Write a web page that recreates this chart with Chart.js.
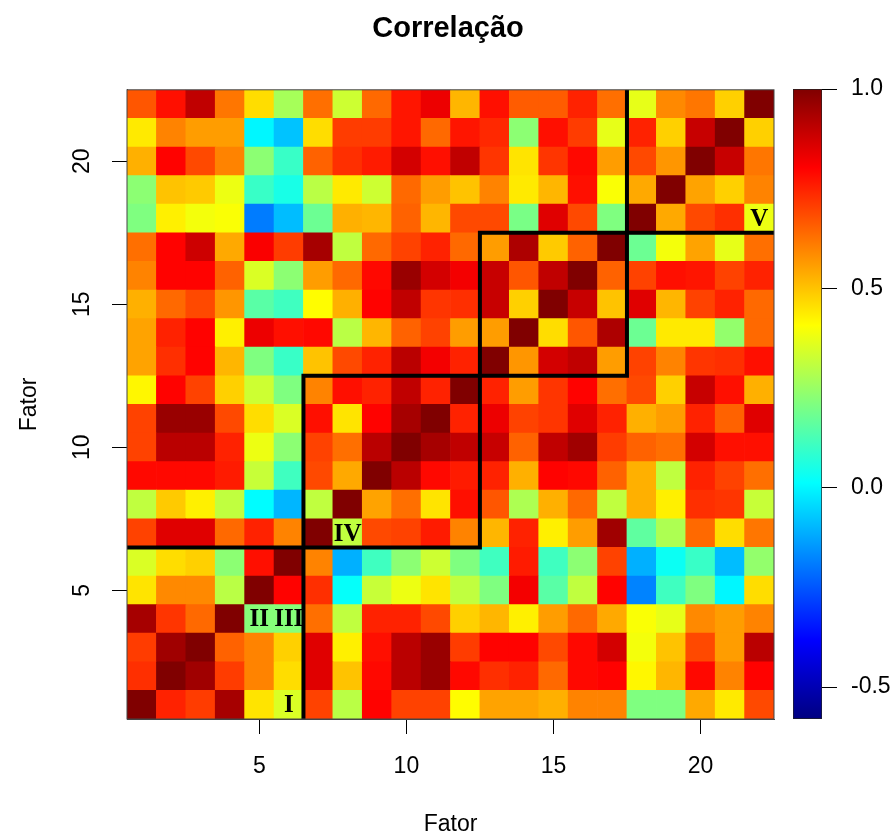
<!DOCTYPE html>
<html>
<head>
<meta charset="utf-8">
<script src="https://cdn.jsdelivr.net/npm/chart.js@4.4.1/dist/chart.umd.min.js"></script>
<style>
  body { margin: 0; background: #fff; }
  #wrap { position: relative; width: 896px; height: 836px; }
  #heat { position: absolute; left: 0; top: 0; }
  #bar { position: absolute; left: 780px; top: 0; }
</style>
</head>
<body>
<div id="wrap">
  <canvas id="heat" width="896" height="836"></canvas>
  <canvas id="bar" width="116" height="836"></canvas>
</div>
<script>
// fatores 1..22 (x e y)
const factors = Array.from({ length: 22 }, (_, i) => i + 1);
const axisTicks = [5, 10, 15, 20];
const colorTicks = [-0.5, 0, 0.5, 1.0];
const zMin = -0.58;
const zMax = 1.0;

// correlações, uma linha por fator no eixo y (de baixo para cima)
const corr = [
  [1.0, 0.75, 0.71, 0.94, 0.45, 0.35, 0.7, 0.3, 0.8, 0.7, 0.7, 0.41, 0.55, 0.55, 0.53, 0.6, 0.6, 0.21, 0.21, 0.54, 0.44, 0.69],
  [0.73, 1.0, 0.95, 0.71, 0.6, 0.46, 0.85, 0.5, 0.79, 0.91, 0.96, 0.79, 0.73, 0.75, 0.64, 0.79, 0.8, 0.42, 0.52, 0.79, 0.6, 0.8],
  [0.71, 0.95, 1.0, 0.65, 0.6, 0.48, 0.85, 0.43, 0.78, 0.91, 0.96, 0.71, 0.8, 0.8, 0.69, 0.79, 0.87, 0.39, 0.5, 0.69, 0.56, 0.91],
  [0.94, 0.72, 0.64, 1.0, 0.22, 0.22, 0.63, 0.31, 0.75, 0.75, 0.69, 0.48, 0.52, 0.43, 0.56, 0.64, 0.54, 0.4, 0.37, 0.59, 0.56, 0.6],
  [0.45, 0.59, 0.59, 0.3, 1.0, 0.8, 0.73, 0.02, 0.32, 0.38, 0.45, 0.31, 0.21, 0.82, 0.15, 0.31, 0.8, -0.18, 0.11, 0.21, 0.0, 0.46],
  [0.35, 0.46, 0.48, 0.23, 0.78, 1.0, 0.6, -0.11, 0.11, 0.23, 0.33, 0.21, 0.11, 0.76, 0.11, 0.23, 0.7, -0.11, 0.03, 0.1, -0.09, 0.24],
  [0.7, 0.85, 0.85, 0.64, 0.75, 0.6, 1.0, 0.31, 0.69, 0.7, 0.76, 0.6, 0.52, 0.75, 0.43, 0.56, 0.95, 0.16, 0.28, 0.64, 0.46, 0.62],
  [0.31, 0.49, 0.43, 0.31, 0.01, -0.1, 0.31, 1.0, 0.55, 0.63, 0.45, 0.78, 0.67, 0.28, 0.53, 0.64, 0.31, 0.53, 0.43, 0.73, 0.72, 0.32],
  [0.79, 0.79, 0.79, 0.76, 0.32, 0.11, 0.69, 0.54, 1.0, 0.91, 0.79, 0.76, 0.75, 0.53, 0.8, 0.79, 0.65, 0.53, 0.31, 0.75, 0.7, 0.63],
  [0.7, 0.91, 0.91, 0.75, 0.38, 0.23, 0.7, 0.63, 0.91, 1.0, 0.94, 0.9, 0.89, 0.65, 0.9, 0.95, 0.71, 0.65, 0.63, 0.87, 0.78, 0.78],
  [0.7, 0.96, 0.96, 0.69, 0.46, 0.35, 0.78, 0.45, 0.8, 0.94, 1.0, 0.75, 0.83, 0.7, 0.72, 0.85, 0.75, 0.53, 0.56, 0.75, 0.65, 0.85],
  [0.42, 0.8, 0.7, 0.48, 0.33, 0.21, 0.6, 0.78, 0.75, 0.9, 0.75, 1.0, 0.75, 0.56, 0.72, 0.8, 0.63, 0.69, 0.48, 0.89, 0.78, 0.53],
  [0.55, 0.73, 0.8, 0.52, 0.21, 0.1, 0.5, 0.69, 0.75, 0.91, 0.82, 0.75, 1.0, 0.57, 0.87, 0.9, 0.56, 0.7, 0.6, 0.72, 0.73, 0.78],
  [0.55, 0.75, 0.8, 0.43, 0.83, 0.78, 0.79, 0.3, 0.52, 0.65, 0.7, 0.56, 0.56, 1.0, 0.46, 0.67, 0.93, 0.18, 0.44, 0.44, 0.24, 0.64],
  [0.53, 0.64, 0.69, 0.57, 0.15, 0.11, 0.41, 0.53, 0.8, 0.9, 0.72, 0.73, 0.89, 0.48, 1.0, 0.89, 0.5, 0.85, 0.52, 0.7, 0.75, 0.64],
  [0.6, 0.8, 0.8, 0.65, 0.35, 0.23, 0.56, 0.64, 0.79, 0.96, 0.87, 0.82, 0.89, 0.67, 0.9, 1.0, 0.65, 0.7, 0.78, 0.77, 0.7, 0.75],
  [0.63, 0.8, 0.88, 0.54, 0.81, 0.71, 0.94, 0.31, 0.64, 0.7, 0.75, 0.64, 0.56, 0.93, 0.49, 0.65, 1.0, 0.18, 0.39, 0.55, 0.37, 0.63],
  [0.21, 0.43, 0.39, 0.4, -0.19, -0.09, 0.18, 0.53, 0.52, 0.65, 0.52, 0.69, 0.69, 0.2, 0.85, 0.69, 0.21, 1.0, 0.54, 0.69, 0.73, 0.38],
  [0.23, 0.5, 0.49, 0.38, 0.1, 0.05, 0.3, 0.44, 0.33, 0.64, 0.56, 0.5, 0.6, 0.44, 0.52, 0.78, 0.4, 0.54, 1.0, 0.55, 0.48, 0.6],
  [0.53, 0.8, 0.69, 0.6, 0.23, 0.1, 0.65, 0.73, 0.76, 0.87, 0.78, 0.9, 0.72, 0.45, 0.72, 0.79, 0.56, 0.69, 0.57, 1.0, 0.89, 0.62],
  [0.44, 0.6, 0.56, 0.56, 0.0, -0.08, 0.46, 0.71, 0.71, 0.77, 0.64, 0.77, 0.74, 0.23, 0.78, 0.71, 0.37, 0.75, 0.48, 0.89, 1.0, 0.48],
  [0.67, 0.78, 0.9, 0.62, 0.46, 0.27, 0.63, 0.33, 0.64, 0.77, 0.83, 0.52, 0.78, 0.66, 0.66, 0.75, 0.63, 0.37, 0.59, 0.62, 0.48, 1.0],
];

// contornos dos blocos (escada)
const stepLineA = [[0.5, 6.5], [12.5, 6.5], [12.5, 17.5], [22.5, 17.5]];
const stepLineB = [[6.5, 0.5], [6.5, 12.5], [17.5, 12.5], [17.5, 22.5]];

// rótulos dos grupos
const groupNames = ["I", "II", "III", "IV", "V"];
const groupX = [6, 5, 6, 8, 22];
const groupY = [1, 4, 4, 7, 18];

const clamp = (v) => Math.max(0, Math.min(1, v));
const jet = (v) => {
  const t = clamp((v - zMin) / (zMax - zMin));
  const r = Math.round(255 * clamp(1.5 - Math.abs(4 * t - 3)));
  const g = Math.round(255 * clamp(1.5 - Math.abs(4 * t - 2)));
  const b = Math.round(255 * clamp(1.5 - Math.abs(4 * t - 1)));
  return `rgb(${r},${g},${b})`;
};

const font = "'Liberation Sans', Arial, sans-serif";

const heatSets = corr.map((row, i) => {
  const y = factors[i];
  return {
    type: "bar",
    data: row.map((v, j) => ({ x: factors[j], y: [y - 0.5, y + 0.5] })),
    backgroundColor: row.map(jet),
    borderWidth: 0,
    grouped: false,
    barPercentage: 1,
    categoryPercentage: 1,
    order: 2,
  };
});

const lineSet = (pts) => ({
  type: "line",
  data: pts.map((p) => ({ x: p[0], y: p[1] })),
  borderColor: "#000",
  borderWidth: 4,
  pointRadius: 0,
  fill: false,
  order: 0,
});

const groupLabels = {
  id: "groupLabels",
  afterDatasetsDraw(chart) {
    const { ctx, scales } = chart;
    ctx.save();
    ctx.font = "bold 25px 'Liberation Serif', 'DejaVu Serif', serif";
    ctx.fillStyle = "#000";
    ctx.textAlign = "center";
    ctx.textBaseline = "middle";
    groupNames.forEach((name, i) => {
      ctx.fillText(name, scales.x.getPixelForValue(groupX[i]), scales.y.getPixelForValue(groupY[i]) + 1);
    });
    ctx.restore();
  },
};

const plotBox = {
  id: "plotBox",
  afterDraw(chart) {
    const { ctx, chartArea: a } = chart;
    ctx.save();
    ctx.strokeStyle = "#444";
    ctx.lineWidth = 1;
    ctx.strokeRect(a.left, a.top, a.right - a.left, a.bottom - a.top);
    ctx.restore();
  },
};

new Chart(document.getElementById("heat"), {
  type: "bar",
  data: {
    datasets: [...heatSets, lineSet(stepLineA), lineSet(stepLineB)],
  },
  plugins: [groupLabels, plotBox],
  options: {
    responsive: false,
    animation: false,
    layout: { padding: 0 },
    plugins: {
      legend: { display: false },
      tooltip: { enabled: false },
      title: {
        display: true,
        text: "Correlação",
        color: "#000",
        font: { family: font, size: 29, weight: "bold" },
        padding: { top: 12, bottom: 43 },
      },
    },
    scales: {
      x: {
        type: "linear",
        min: 0.5,
        max: 22.5,
        offset: false,
        afterBuildTicks: (s) => { s.ticks = axisTicks.map((v) => ({ value: v })); },
        afterFit: (s) => { s.height = 117; },
        grid: { drawOnChartArea: false, offset: false, color: "#000", tickLength: 15 },
        border: { color: "#444" },
        ticks: { color: "#000", padding: 19, font: { family: font, size: 23 } },
        title: {
          display: true, text: "Fator", color: "#000",
          font: { family: font, size: 23, lineHeight: 1 },
          padding: { top: 0, bottom: 0 },
        },
      },
      y: {
        type: "linear",
        min: 0.5,
        max: 22.5,
        afterBuildTicks: (s) => { s.ticks = axisTicks.map((v) => ({ value: v })); },
        afterFit: (s) => { s.width = 127; },
        grid: { drawOnChartArea: false, color: "#000", tickLength: 15 },
        border: { color: "#444" },
        ticks: {
          color: "#000", padding: 17, minRotation: 90, maxRotation: 90, crossAlign: "center",
          font: { family: font, size: 23 },
        },
        title: {
          display: true, text: "Fator", color: "#000",
          font: { family: font, size: 23, lineHeight: 1 },
          padding: { top: 18, bottom: 0 },
        },
      },
      // espaço reservado para a barra de cores
      yR: {
        type: "linear",
        position: "right",
        display: true,
        afterFit: (s) => { s.width = 122; },
        grid: { display: false },
        border: { display: false },
        ticks: { display: false },
      },
    },
  },
});

// barra de cores
const jetStops = [0, 1 / 8, 3 / 8, 5 / 8, 7 / 8, 1];
new Chart(document.getElementById("bar"), {
  type: "bar",
  data: {
    labels: ["z"],
    datasets: [{
      data: [[zMin, zMax]],
      backgroundColor: (c) => {
        const { chart } = c;
        if (!chart.chartArea) return "#fff";
        const ys = chart.scales.y;
        const g = chart.ctx.createLinearGradient(0, ys.getPixelForValue(zMin), 0, ys.getPixelForValue(zMax));
        jetStops.forEach((t) => g.addColorStop(t, jet(zMin + t * (zMax - zMin))));
        return g;
      },
      borderColor: "#222",
      borderWidth: 1,
      borderSkipped: false,
      barPercentage: 1,
      categoryPercentage: 1,
    }],
  },
  options: {
    responsive: false,
    animation: false,
    layout: { padding: { left: 13, right: 0, top: 89, bottom: 117 } },
    plugins: { legend: { display: false }, tooltip: { enabled: false } },
    scales: {
      x: { display: false },
      y: {
        position: "right",
        min: zMin,
        max: zMax,
        afterBuildTicks: (s) => { s.ticks = colorTicks.map((v) => ({ value: v })); },
        afterFit: (s) => { s.width = 74; },
        grid: { drawOnChartArea: false, color: "#000", tickLength: 15 },
        border: { display: false },
        ticks: {
          color: "#000", padding: 14,
          font: { family: font, size: 23 },
          callback: (v) => v.toFixed(1),
        },
      },
    },
  },
});
</script>
</body>
</html>
